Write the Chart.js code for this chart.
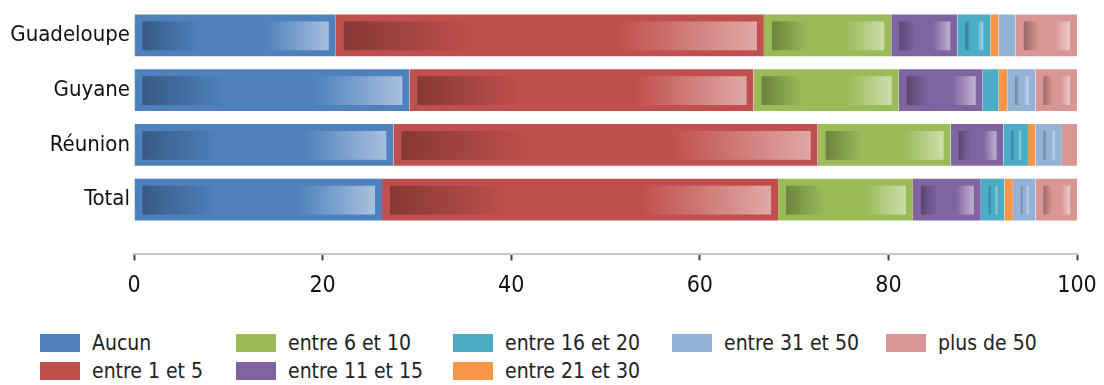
<!DOCTYPE html>
<html>
<head>
<meta charset="utf-8">
<script src="https://cdn.jsdelivr.net/npm/chart.js@4/dist/chart.umd.min.js"></script>
<style>
  body { margin: 0; background: #fff; font-family: "DejaVu Sans Condensed", "DejaVu Sans", sans-serif; }
  #wrap { position: relative; width: 1104px; height: 385px; }
  #chart { position: absolute; left: 0; top: 0; }
  #legend { position: absolute; left: 40px; top: 329px; display: grid;
            grid-template-rows: 28px 28px; grid-template-columns: 196px 217px 219px 214px auto;
            font-size: 21px; color: #222; }
  .item { display: flex; align-items: center; white-space: nowrap; }
  .sw { width: 40px; height: 18px; margin-right: 12px; }
</style>
</head>
<body>
<div id="wrap">
  <canvas id="chart" width="1104" height="320"></canvas>
  <div id="legend"></div>
</div>
<script>
var categories = ['Guadeloupe', 'Guyane', 'Réunion', 'Total'];
var seriesNames = ['Aucun', 'entre 1 et 5', 'entre 6 et 10', 'entre 11 et 15',
                   'entre 16 et 20', 'entre 21 et 30', 'entre 31 et 50', 'plus de 50'];
var aucun       = [21.4, 29.2, 27.5, 26.3];
var entre1et5   = [45.4, 36.5, 45.0, 42.0];
var entre6et10  = [13.5, 15.4, 14.1, 14.3];
var entre11et15 = [7.0, 8.9, 5.6, 7.2];
var entre16et20 = [3.5, 1.7, 2.6, 2.5];
var entre21et30 = [0.9, 0.9, 0.8, 0.9];
var entre31et50 = [1.8, 3.0, 2.8, 2.4];
var plusDe50    = [6.5, 4.4, 1.6, 4.4];
var xTicks = [0, 20, 40, 60, 80, 100];

var series = [aucun, entre1et5, entre6et10, entre11et15, entre16et20, entre21et30, entre31et50, plusDe50];
var colors = ['#4f81bd', '#c0504d', '#9bbb59', '#8064a2', '#4bacc6', '#f79646', '#95b3d7', '#d99694'];

function shade(hex, f, mixWhite) {
    var n = parseInt(hex.slice(1), 16);
    var c = [(n >> 16) & 255, (n >> 8) & 255, n & 255].map(function (v) {
        return mixWhite ? Math.round(v + (255 - v) * f) : Math.round(v * f);
    });
    return 'rgb(' + c.join(',') + ')';
}

// Excel style inner gradient on each bar segment
var innerGlow = {
    id: 'innerGlow',
    afterDatasetsDraw: function (chart) {
        var ctx = chart.ctx;
        chart.data.datasets.forEach(function (ds, di) {
            var meta = chart.getDatasetMeta(di);
            meta.data.forEach(function (bar) {
                var p = bar.getProps(['x', 'y', 'base', 'height'], true);
                var l = Math.min(p.x, p.base) + 8, r = Math.max(p.x, p.base) - 7;
                var t = p.y - p.height / 2 + 8, b = p.y + p.height / 2 - 7;
                if (r - l < 2) return;
                var g = ctx.createLinearGradient(l, 0, r, 0);
                g.addColorStop(0, shade(ds.backgroundColor, 0.7));
                g.addColorStop(0.32, ds.backgroundColor);
                g.addColorStop(0.66, ds.backgroundColor);
                g.addColorStop(1, shade(ds.backgroundColor, 0.5, true));
                ctx.save();
                ctx.fillStyle = g;
                ctx.fillRect(l, t, r - l, b - t);
                ctx.restore();
            });
        });
    }
};

var datasets = series.map(function (arr, i) {
    return {
        label: seriesNames[i],
        data: arr.map(function (v, k) { return { x: v, y: k }; }),
        backgroundColor: colors[i],
        borderColor: 'rgba(255,255,255,0.45)',
        borderWidth: { top: 1, bottom: 1, left: 0, right: 0 },
        borderSkipped: false,
        barPercentage: 0.8,
        categoryPercentage: 1
    };
});

var chart = new Chart(document.getElementById('chart'), {
    type: 'bar',
    data: { datasets: datasets },
    options: {
        indexAxis: 'y',
        responsive: false,
        animation: false,
        events: [],
        layout: { padding: { top: 8, right: 27, bottom: 8, left: 0 } },
        plugins: { legend: { display: false }, tooltip: { enabled: false } },
        scales: {
            x: {
                type: 'linear', stacked: true, min: 0, max: 100,
                afterBuildTicks: function (s) { s.ticks = xTicks.map(function (v) { return { value: v }; }); },
                afterFit: function (s) { s.paddingLeft = 0; s.paddingRight = 0; },
                grid: { drawOnChartArea: false, tickLength: 6, tickColor: '#404040', tickWidth: 2 },
                border: { color: '#c8c8c8', width: 2 },
                ticks: { padding: 12, color: '#111', font: { family: '"DejaVu Sans Condensed", "DejaVu Sans"', size: 23 } }
            },
            y: {
                type: 'linear', stacked: true, reverse: true, offset: false, min: -0.5, max: 4,
                afterBuildTicks: function (s) { s.ticks = categories.map(function (c, i) { return { value: i }; }); },
                afterFit: function (s) { s.width = 134; s.paddingTop = 0; s.paddingBottom = 0; },
                grid: { display: false, drawTicks: false },
                border: { display: false },
                ticks: {
                    padding: 4, color: '#111',
                    font: { family: '"DejaVu Sans Condensed", "DejaVu Sans"', size: 22 },
                    callback: function (v) { return categories[v] || ''; }
                }
            }
        }
    },
    plugins: [innerGlow]
});

// legend: first six entries fill two-row columns, the last two sit on the first row
var legend = document.getElementById('legend');
chart.data.datasets.forEach(function (ds, i) {
    var item = document.createElement('div');
    item.className = 'item';
    item.style.gridColumn = i < 6 ? Math.floor(i / 2) + 1 : i - 2;
    item.style.gridRow = i < 6 ? (i % 2) + 1 : 1;
    var sw = document.createElement('span');
    sw.className = 'sw';
    sw.style.background = ds.backgroundColor;
    item.appendChild(sw);
    item.appendChild(document.createTextNode(ds.label));
    legend.appendChild(item);
});
</script>
</body>
</html>
